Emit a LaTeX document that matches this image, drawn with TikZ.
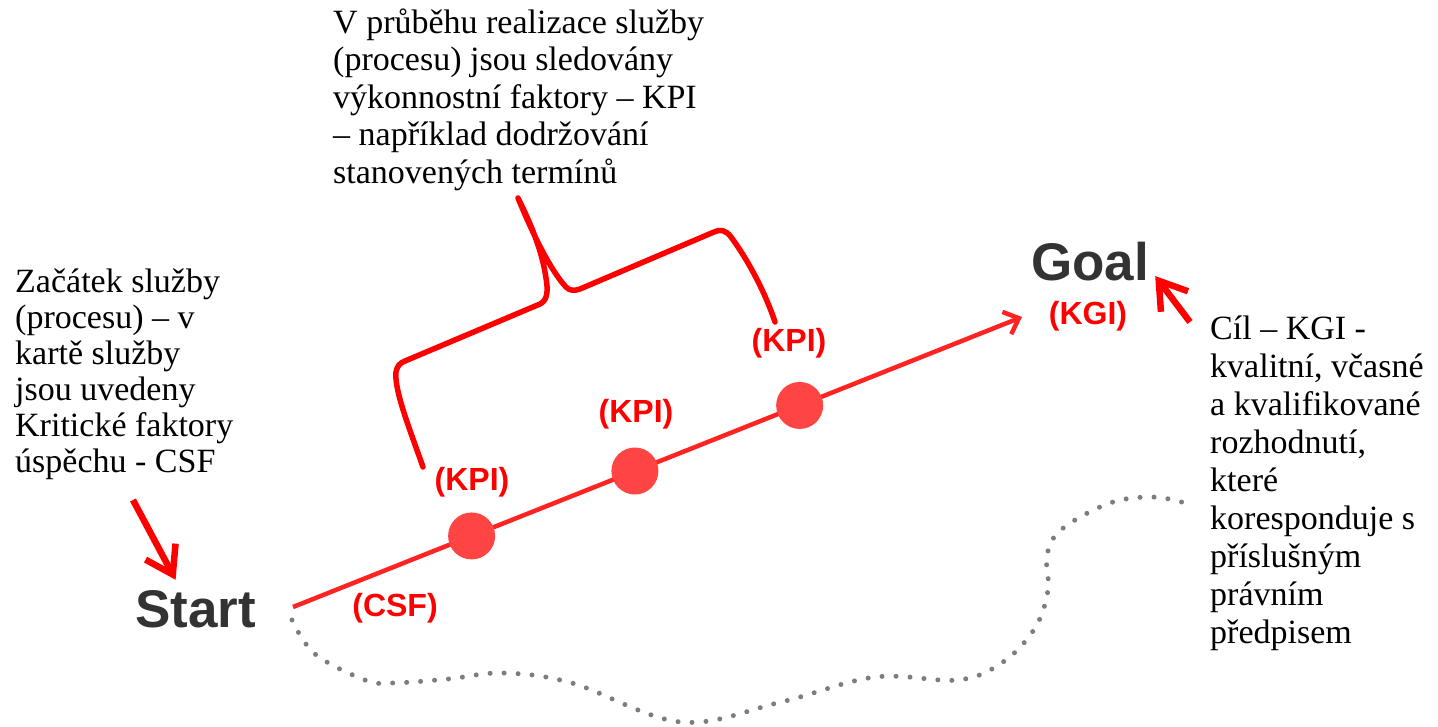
\documentclass[tikz,border=0pt]{standalone}
\usepackage{fontspec}
\setmainfont{Liberation Serif}
\newfontfamily\tagfont{Liberation Sans}
\usetikzlibrary{calc,arrows.meta}
\definecolor{kpired}{RGB}{255,0,0}
\definecolor{linered}{RGB}{255,35,35}
\definecolor{dotred}{RGB}{255,68,68}
\definecolor{endgray}{RGB}{51,51,51}
\definecolor{pathgray}{RGB}{125,125,125}

\begin{document}
\begin{tikzpicture}[x=1pt,y=-1pt,
  note/.style={inner sep=0pt,anchor=base west,align=left,font=\fontsize{34}{38}\selectfont},
  ends/.style={inner sep=0pt,anchor=base west,text=endgray,font=\tagfont\bfseries\fontsize{53}{53}\selectfont},
  tag/.style={inner sep=0pt,text=kpired,font=\tagfont\bfseries\fontsize{32}{32}\selectfont},
  milestone/.style={circle,fill=dotred,minimum size=47pt,inner sep=0pt},
  track/.style={draw=linered,line width=4.5pt,-{Straight Barb[length=13pt,width=24pt]}},
  pointer/.style={draw=kpired,line width=6.5pt,-{Straight Barb[length=26pt,width=34pt]}},
  brace/.style={draw=kpired,line width=5.5pt,line cap=round,line join=round},
  detour/.style={draw=pathgray,line width=5pt,line cap=round,dash pattern=on 0pt off 14pt}
]
\useasboundingbox (0,0) rectangle (1438,726);

% texts (anchored at the last baseline)
\node[note,font=\fontsize{34}{36}\selectfont] (startnote) at (15,472) {Začátek služby\\(procesu) -- v\\kartě služby\\jsou uvedeny\\Kritické faktory\\úspěchu - CSF};
\node[note,font=\fontsize{34}{37.5}\selectfont] (kpinote) at (333,183) {V průběhu realizace služby\\(procesu) jsou sledovány\\výkonnostní faktory -- KPI\\-- například dodržování\\stanovených termínů};
\node[note] (goalnote) at (1210,643) {Cíl -- KGI -\\kvalitní, včasné\\a kvalifikované\\rozhodnutí,\\které\\koresponduje s\\příslušným\\právním\\předpisem};

\node[ends] (start) at (135,627) {Start};
\node[ends] (goal) at (1031,280) {Goal};

% dotted way
\draw[detour] plot[smooth,tension=0.6] coordinates {(292,620) (315,654) (365,680) (392,683) (448,679) (503,673) (572,683) (681,722) (781,702) (875,677) (958,680) (1003,662) (1035,628) (1048,590) (1047,555) (1062,529) (1110,503) (1153,497) (1185,503)};

% main line
\coordinate (launch) at (293,607);
\coordinate (target) at (1022,317);
\draw[track] (launch) -- (target);
\node[milestone] (m1) at ($(launch)!0.245!(target)$) {};
\node[milestone] (m2) at ($(launch)!0.469!(target)$) {};
\node[milestone] (m3) at ($(launch)!0.695!(target)$) {};

\node[tag] (csf) at (395,608) {(CSF)};
\node[tag] (kpi1) at (472,482) {(KPI)};
\node[tag] (kpi2) at (636,414) {(KPI)};
\node[tag] (kpi3) at (789,343) {(KPI)};
\node[tag] (kgi) at (1088,316) {(KGI)};

% brace
\draw[brace] (423,467) .. controls (410,430) and (394,390) .. (396,372)
  .. controls (397,366) and (400,363) .. (405,361) -- (540,304)
  .. controls (548,300) and (548,290) .. (546,278)
  .. controls (542,250) and (530,222) .. (518,198)
  .. controls (532,232) and (550,270) .. (566,287)
  .. controls (570,291) and (574,291) .. (580,289) -- (714,232)
  .. controls (720,229) and (726,230) .. (731,237)
  .. controls (748,260) and (765,292) .. (775,322);

% pointers
\coordinate (startcue) at (133,500);
\coordinate (goalcue) at (1190,322);
\draw[pointer] (startcue) -- ($(start.north)+(-20,-10)$);
\draw[pointer] (goalcue) -- ($(goal.east)+(6,15)$);
\end{tikzpicture}
\end{document}
